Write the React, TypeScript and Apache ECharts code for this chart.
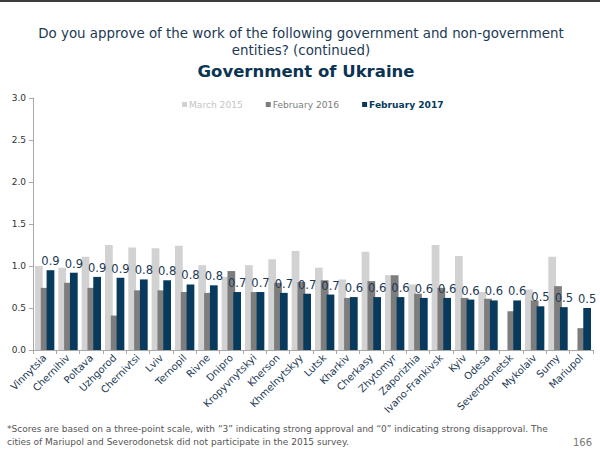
import React, { useEffect, useRef } from "react";
import * as echarts from "echarts";

const categories = [
  "Vinnytsia", "Chernihiv", "Poltava", "Uzhgorod", "Chernivtsi", "Lviv", "Ternopil", "Rivne",
  "Dnipro", "Kropyvnytskyi", "Kherson", "Khmelnytskyy", "Lutsk", "Kharkiv", "Cherkasy", "Zhytomyr",
  "Zaporizhia", "Ivano-Frankivsk", "Kyiv", "Odesa", "Severodonetsk", "Mykolaiv", "Sumy", "Mariupol",
];
const march2015 = [
  1.0, 0.98, 1.11, 1.25, 1.22, 1.21, 1.24, 1.01, 0.87, 1.01, 1.08, 1.18,
  0.98, 0.84, 1.17, 0.89, 0.78, 1.25, 1.12, 0.69, null, 0.72, 1.11, null,
];
const feb2016 = [
  0.74, 0.8, 0.74, 0.41, 0.71, 0.71, 0.69, 0.68, 0.94, 0.69, 0.8, 0.81,
  0.83, 0.62, 0.82, 0.89, 0.67, 0.74, 0.62, 0.61, 0.46, 0.59, 0.76, 0.26,
];
const feb2017 = [
  0.95, 0.92, 0.87, 0.86, 0.84, 0.83, 0.78, 0.77, 0.69, 0.69, 0.68, 0.67,
  0.66, 0.63, 0.63, 0.63, 0.62, 0.62, 0.6, 0.59, 0.59, 0.52, 0.51, 0.5,
];
const yTicks = [0, 0.5, 1.0, 1.5, 2.0, 2.5, 3.0];
const seriesNames = ["March 2015", "February 2016", "February 2017"];

const FONT = "DejaVu Sans";
const NAVY = "#073a5c";
const TEXT = "#1c3a55";

export default function App() {
  const ref = useRef<HTMLDivElement>(null);
  useEffect(() => {
    document.body.style.margin = "0";
    const chart = echarts.init(ref.current!, undefined, { renderer: "svg" });
    const colors = ["#d2d2d2", "#7d7d7d", NAVY];
    chart.setOption({
      animation: false,
      backgroundColor: "#ffffff",
      textStyle: { fontFamily: FONT },
      graphic: [
        { type: "rect", shape: { x: 0, y: 0, width: 600, height: 2 }, style: { fill: "#3c3c3c" } },
        {
          type: "text", x: 301, y: 33,
          style: { text: "Do you approve of the work of the following government and non-government", fontSize: 13.4, fill: TEXT, fontFamily: FONT, align: "center", verticalAlign: "middle" },
        },
        {
          type: "text", x: 301, y: 50,
          style: { text: "entities? (continued)", fontSize: 13.4, fill: TEXT, fontFamily: FONT, align: "center", verticalAlign: "middle" },
        },
        {
          type: "text", x: 306, y: 71,
          style: { text: "Government of Ukraine", fontSize: 16.5, fontWeight: "bold", fill: "#0b3352", fontFamily: FONT, align: "center", verticalAlign: "middle" },
        },
        {
          type: "text", x: 7, y: 429,
          style: { text: "*Scores are based on a three-point scale, with \u201c3\u201d indicating strong approval and \u201c0\u201d indicating strong disapproval. The", fontSize: 9, fill: "#555555", fontFamily: FONT, verticalAlign: "middle" },
        },
        {
          type: "text", x: 7, y: 442,
          style: { text: "cities of Mariupol and Severodonetsk did not participate in the 2015 survey.", fontSize: 9, fill: "#555555", fontFamily: FONT, verticalAlign: "middle" },
        },
        {
          type: "text", x: 592, y: 442,
          style: { text: "166", fontSize: 10, fill: "#777777", fontFamily: FONT, align: "right", verticalAlign: "middle" },
        },
      ],
      legend: {
        top: 95,
        left: 177,
        itemWidth: 5,
        itemHeight: 5,
        itemGap: 23,
        icon: "rect",
        data: [
          { name: seriesNames[0], textStyle: { color: "#c4c4c4" } },
          { name: seriesNames[1], textStyle: { color: "#7d7d7d" } },
          { name: seriesNames[2], textStyle: { color: NAVY, fontWeight: "bold" } },
        ],
        textStyle: { fontSize: 9.1, fontFamily: FONT, padding: [0, 0, 0, -3] },
      },
      grid: { left: 33, right: 7, top: 98, bottom: 102, containLabel: false },
      xAxis: {
        type: "category",
        data: categories,
        axisLine: { lineStyle: { color: "#a8a8a8" } },
        axisTick: { show: true, length: 4, lineStyle: { color: "#a8a8a8" } },
        axisLabel: { rotate: 45, interval: 0, fontSize: 10, color: TEXT, margin: 6, fontFamily: FONT },
      },
      yAxis: {
        type: "value",
        min: yTicks[0],
        max: yTicks[yTicks.length - 1],
        interval: 0.5,
        axisLine: { show: true, lineStyle: { color: "#a8a8a8" } },
        axisTick: { show: true, length: 4, lineStyle: { color: "#a8a8a8" } },
        splitLine: { show: false },
        axisLabel: { fontSize: 9, color: "#333333", margin: 7, formatter: (v: number) => v.toFixed(1), fontFamily: FONT },
      },
      series: [march2015, feb2016, feb2017].map((d, i) => ({
        type: "bar",
        name: seriesNames[i],
        data: d,
        itemStyle: { color: colors[i] },
        barGap: "-25%",
        barCategoryGap: "17%",
        label: i === 2
          ? { show: true, position: "top", distance: 3, fontSize: 11.5, color: TEXT, fontFamily: FONT, formatter: (p: any) => Number(p.value).toFixed(1) }
          : { show: false },
      })),
    });
    return () => chart.dispose();
  }, []);
  return <div ref={ref} style={{ width: 600, height: 452 }} />;
}
